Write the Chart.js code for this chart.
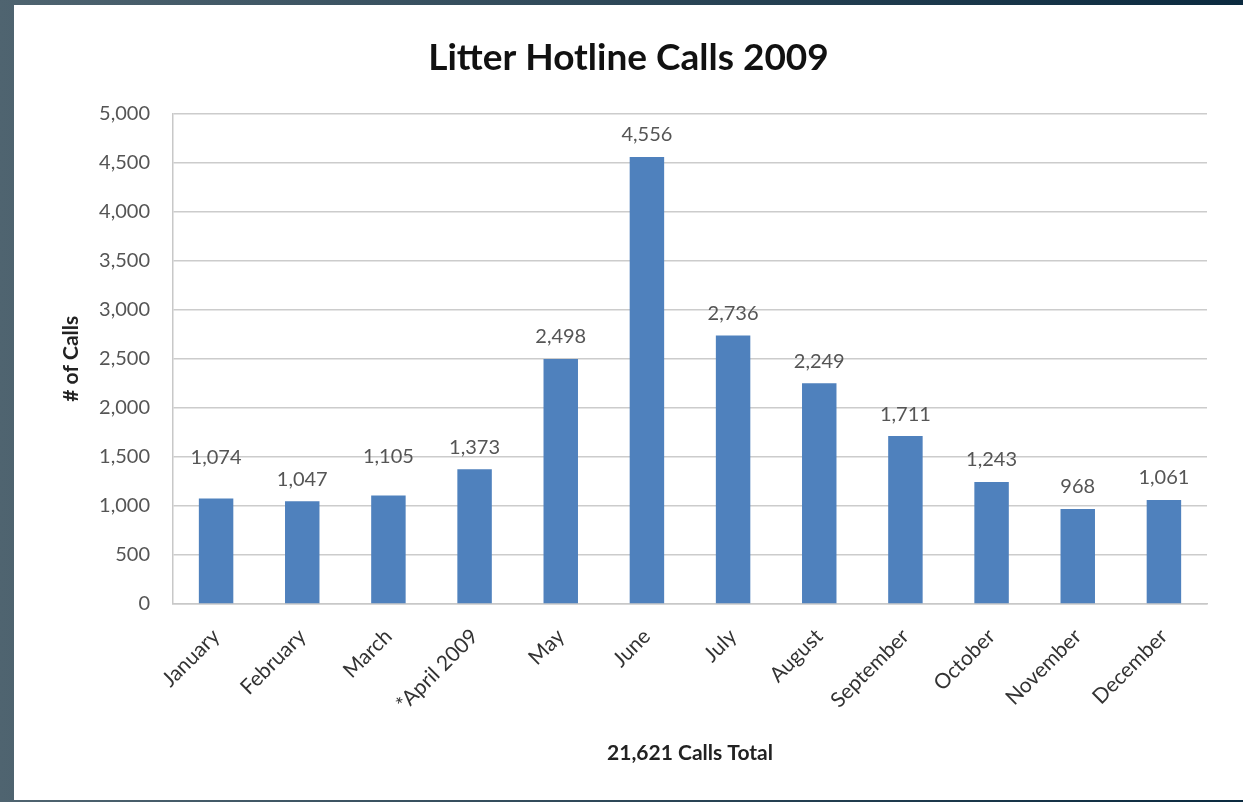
<!DOCTYPE html>
<html>
<head>
<meta charset="utf-8">
<script src="https://cdn.jsdelivr.net/npm/chart.js@4.4.0/dist/chart.umd.min.js"></script>
<style>
  html, body { margin: 0; padding: 0; width: 1243px; height: 802px; overflow: hidden; }
  body { position: relative; background: linear-gradient(to right, #4f6470, #0b2a3f); }
  #panel { position: absolute; left: 14px; top: 5px; right: 0; bottom: 2px; background: #fff; }
  #wrap { position: absolute; left: 0; top: 0; width: 1243px; height: 802px; }
</style>
</head>
<body>
<div id="panel"></div>
<div id="wrap"><canvas id="callsChart"></canvas></div>
<script>
'use strict';

let months = ['January', 'February', 'March', '*April 2009', 'May', 'June',
  'July', 'August', 'September', 'October', 'November', 'December'];
let calls = [1074, 1047, 1105, 1373, 2498, 4556, 2736, 2249, 1711, 1243, 968, 1061];

let yMin = 0;
let yMax = 5000;
let yStep = 500;

let chartTitle = 'Litter Hotline Calls 2009';
let yTitle = '# of Calls';
let xTitle = '21,621 Calls Total';

let fontFamily = 'Lato, "Open Sans", sans-serif';

// draws the number above each bar
let valueLabels = {
  id: 'valueLabels',
  afterDatasetsDraw: function (chart, args, opts) {
    let ctx = chart.ctx;
    let meta = chart.getDatasetMeta(0);
    ctx.save();
    ctx.font = opts.font;
    ctx.fillStyle = opts.color;
    ctx.textAlign = 'center';
    ctx.textBaseline = 'middle';
    meta.data.forEach(function (bar, i) {
      let lift = opts.lift[i] || 0;
      ctx.fillText(calls[i].toLocaleString('en-US'), bar.x, bar.y - opts.offset - lift);
    });
    ctx.restore();
  }
};

let ctx = document.getElementById('callsChart').getContext('2d');

new Chart(ctx, {
  type: 'bar',
  data: {
    labels: months,
    datasets: [{
      label: 'Calls',
      data: calls,
      backgroundColor: '#4f81bd',
      barPercentage: 0.4,
      categoryPercentage: 1
    }]
  },
  plugins: [valueLabels],
  options: {
    responsive: true,
    maintainAspectRatio: false,
    animation: false,
    layout: { padding: { left: 50, right: 36, top: 0, bottom: 0 } },
    plugins: {
      legend: { display: false },
      tooltip: { enabled: false },
      title: {
        display: true,
        text: chartTitle,
        color: '#111',
        font: { family: fontFamily, size: 37, weight: 'bold' },
        padding: { top: 36, bottom: 33 }
      },
      valueLabels: {
        font: '20px ' + fontFamily,
        color: '#555',
        offset: 22,
        lift: { 0: 19, 2: 17 }
      }
    },
    scales: {
      x: {
        grid: { display: false, drawTicks: false },
        border: { color: '#c8c8c8', width: 1.5 },
        ticks: {
          color: '#333',
          font: { family: fontFamily, size: 21 },
          maxRotation: 45,
          minRotation: 45,
          padding: 20
        },
        title: {
          display: true,
          text: xTitle,
          color: '#222',
          font: { family: fontFamily, size: 21, weight: 'bold' },
          padding: { top: 0, bottom: 36 }
        },
        afterFit: function (scale) { scale.height = 198; }
      },
      y: {
        min: yMin,
        max: yMax,
        grid: { color: '#cccccc', lineWidth: 1.5, drawTicks: false },
        border: { color: '#c8c8c8', width: 1.5 },
        ticks: {
          stepSize: yStep,
          color: '#555',
          font: { family: fontFamily, size: 20 },
          padding: 23,
          callback: function (v) { return v.toLocaleString('en-US'); }
        },
        title: {
          display: true,
          text: yTitle,
          color: '#222',
          font: { family: fontFamily, size: 21, weight: 'bold' },
          padding: { top: 9, bottom: 0 }
        },
        afterFit: function (scale) { scale.width = 123; }
      }
    }
  }
});
</script>
</body>
</html>
